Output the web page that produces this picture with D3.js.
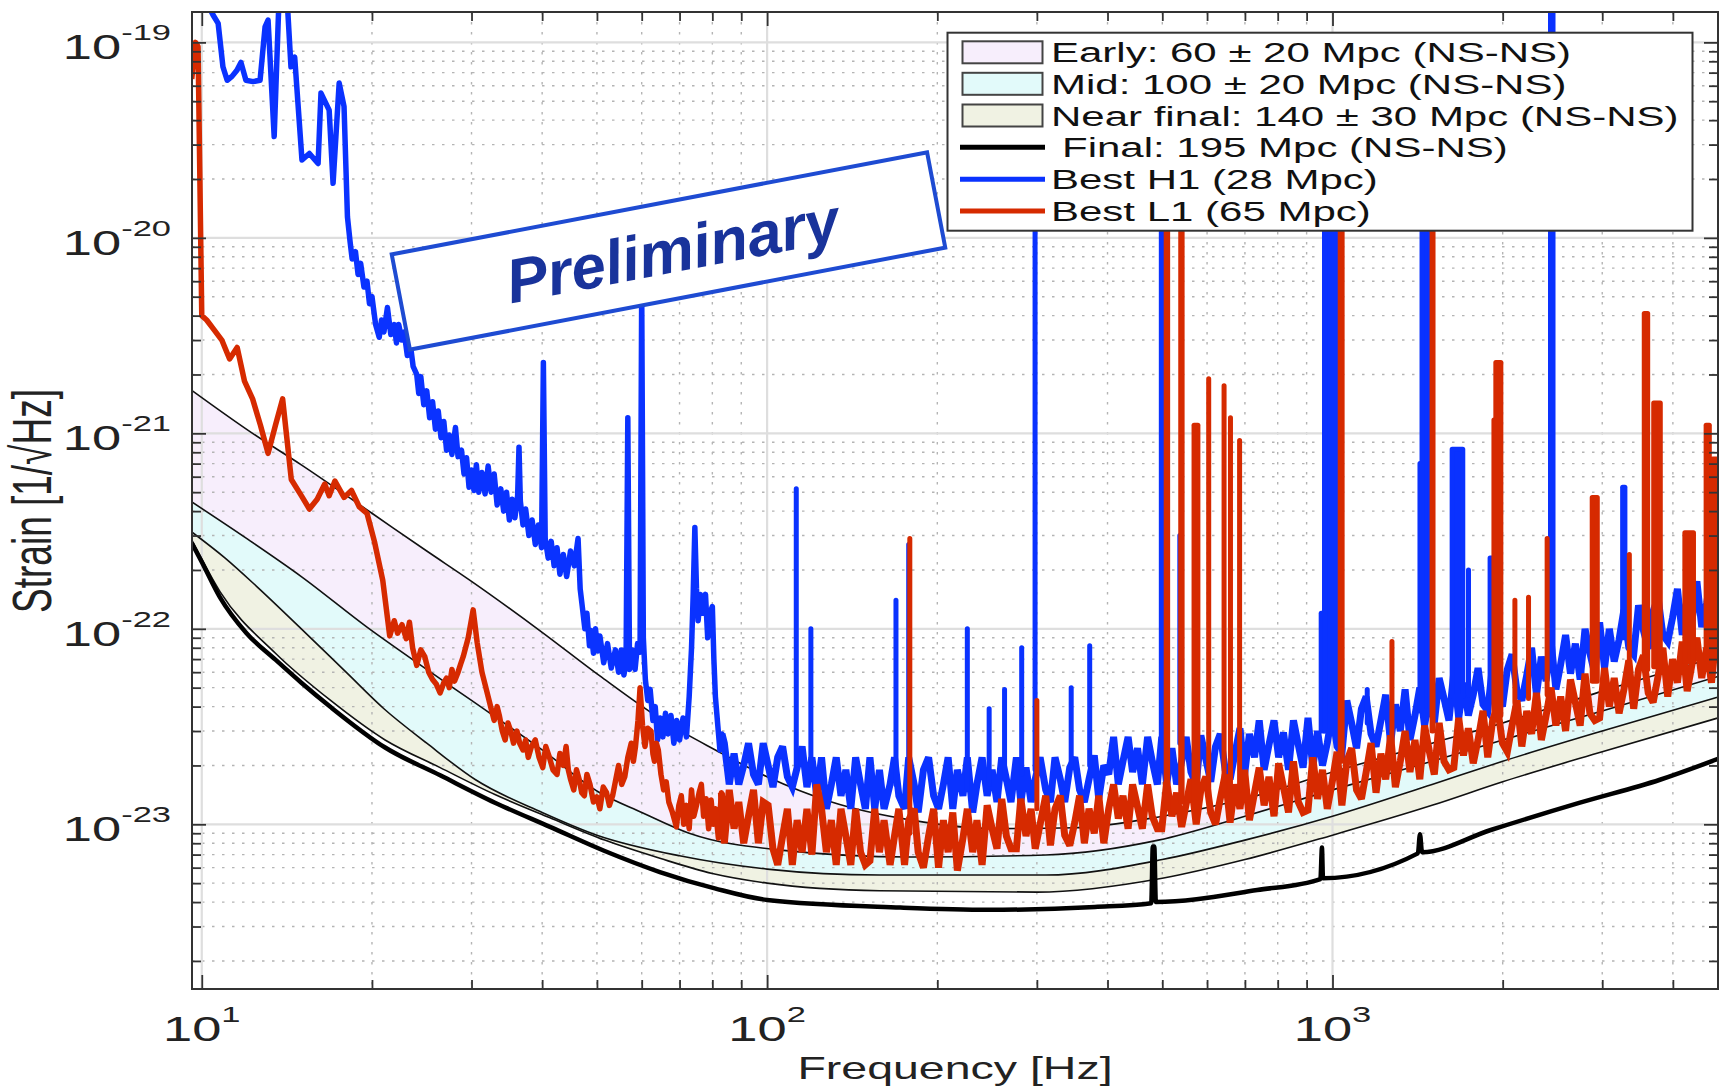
<!DOCTYPE html>
<html>
<head>
<meta charset="utf-8">
<script src="https://cdn.jsdelivr.net/npm/d3@7/dist/d3.min.js"></script>
<style>
  body { margin: 0; background: #fff; }
  svg { display: block; font-family: "Liberation Sans", Arial, Helvetica, sans-serif; }
</style>
</head>
<body>
<div id="vis"></div>
<script>

// ---- Data: [frequency Hz, strain 1/sqrt(Hz)] ----

// Early band upper edge (worst of 60 +- 20 Mpc)
const earlyUpper = [[9.6,1.66e-21],[12.3,1.0e-21],[15,6.9e-22],[20,3.9e-22],[25,2.5e-22],[30,1.75e-22],[40,9.6e-23],
  [50.6,5.74e-23],[66.5,3.3e-23],[81,2.4e-23],[100,1.75e-23],[130,1.3e-23],[180,1.05e-23],[250,9.5e-24],[350,9.6e-24],
  [500,1.1e-23],[700,1.35e-23],[1000,1.85e-23],[1500,2.6e-23],[2000,3.3e-23],[3000,4.8e-23],[4807,7.2e-23]];

// Early lower edge = Mid upper edge
const midUpper = [[9.6,4.46e-22],[12,2.9e-22],[15,1.85e-22],[19.6,1.02e-22],[25,6.2e-23],[30,4.3e-23],[40,2.4e-23],
  [50.6,1.45e-23],[60,1.15e-23],[72.8,9.0e-24],[104.6,7.4e-24],[180,6.8e-24],[311,6.97e-24],[492,8.3e-24],[700,1.1e-23],
  [1000,1.5e-23],[1500,2.1e-23],[2000,2.7e-23],[3000,3.8e-23],[4807,5.7e-23]];

// Mid lower edge = Near final upper edge
const nearUpper = [[9.6,3.13e-22],[11,2.3e-22],[12.5,1.65e-22],[15,1.0e-22],[18,6e-23],[21,3.9e-23],[25,2.6e-23],
  [30.5,1.69e-23],[40,1.15e-23],[50,8.8e-24],[70,6.9e-24],[100,5.9e-24],[158,5.5e-24],[311,5.5e-24],[500,6.6e-24],
  [700,8.3e-24],[1000,1.1e-23],[1500,1.6e-23],[2000,2.1e-23],[3000,3.0e-23],[4807,4.47e-23]];

// Near final lower edge
const nearLower = [[9.6,2.85e-22],[10.77,1.55e-22],[13.5,7.5e-23],[16.9,4.3e-23],[21.1,2.7e-23],[26.4,1.95e-23],
  [33,1.42e-23],[41.3,1.08e-23],[51.6,8.3e-24],[64.6,6.7e-24],[80,5.6e-24],[100,5.0e-24],[158,4.57e-24],
  [300,4.5e-24],[500,5.3e-24],[700,6.6e-24],[1000,8.8e-24],[1500,1.25e-23],[2000,1.65e-23],[3000,2.35e-23],
  [4807,3.5e-23]];

// Final design (195 Mpc)
const finalDesign = [[9.6,2.75e-22],[10,2.2e-22],[10.77,1.45e-22],[12,9.5e-23],[13.5,6.95e-23],[15,5.3e-23],
  [16.9,3.98e-23],[21.1,2.47e-23],[26.4,1.78e-23],[33,1.29e-23],[41.3,9.7e-24],[51.6,7.3e-24],[64.6,5.7e-24],
  [80.8,4.7e-24],[100,4.1e-24],[172,3.75e-24],[246,3.65e-24],[380,3.78e-24],[478,3.95e-24],[481,7.7e-24],
  [484,7.7e-24],[487,4.0e-24],[736,4.61e-24],[952,5.25e-24],[958,7.6e-24],[962,5.3e-24],[1416,7.1e-24],
  [1428,8.9e-24],[1440,7.2e-24],[1905,9.35e-24],[2740,1.29e-23],[3795,1.69e-23],[4807,2.16e-23]];

// Best H1 (28 Mpc): low-frequency trace, then the noise floor, then lines [f from, f to, peak, floor]
const h1Low = [[10.1,1.7e-19],[10.47,1.38e-19],[10.69,1.25e-19],[10.9,7.5e-20],[11.09,6.4e-20],[11.31,6.7e-20],
  [11.54,7.2e-20],[11.73,7.9e-20],[11.97,6.4e-20],[12.32,6.3e-20],[12.68,6.4e-20],[12.94,1.2e-19],[13.1,1.3e-19],
  [13.43,3.3e-20],[13.7,1.7e-19],[14.15,1.7e-19],[14.38,7.5e-20],[14.6,8.4e-20],[15.04,2.5e-20],[15.5,2.7e-20],
  [16.06,2.4e-20],[16.25,5.5e-20],[16.8,4.5e-20],[17.07,1.9e-20],[17.5,6.2e-20],[17.85,4.7e-20],[18.1,1.28e-20],
  [18.3,9.5e-21],[18.45,7.8e-21],[18.7,8.5e-21],[18.9,6.5e-21],[19.1,7.4e-21],[19.36,5.6e-21],[19.6,6.0e-21],
  [19.8,4.6e-21],[20.0,5.0e-21],[20.3,3.6e-21],[20.6,3.1e-21],[20.8,3.8e-21],[21.0,3.3e-21],[21.3,4.4e-21],
  [21.6,3.2e-21],[21.9,3.6e-21],[22.1,2.9e-21],[22.3,3.6e-21],[22.6,3.0e-21],[22.8,3.3e-21],[23.1,2.5e-21],
  [23.4,2.8e-21],[23.65,2.2e-21],[24.0,2.0e-21],[24.2,1.6e-21],[24.4,1.95e-21],[24.7,1.4e-21],[25.0,1.65e-21],
  [25.3,1.2e-21],[25.6,1.45e-21],[25.9,1.05e-21],[26.2,1.3e-21],[26.5,9.5e-22],[26.8,1.15e-21],[27.1,8.2e-22],
  [27.4,9.8e-22],[27.7,7.8e-22],[28.1,1.07e-21],[28.4,7.6e-22],[28.8,8.2e-22],[29.1,6.2e-22],[29.4,7.5e-22],
  [29.7,5.3e-22],[30.0,6.5e-22],[30.3,5.1e-22],[30.6,6.9e-22],[30.9,5.0e-22],[31.3,6.3e-22],[31.7,4.9e-22],
  [32.1,6.8e-22],[32.5,5.0e-22],[32.9,6.2e-22],[33.3,4.3e-22],[33.8,5.2e-22],[34.2,4.0e-22],[34.6,5.0e-22],
  [35.0,3.6e-22],[35.4,4.6e-22],[35.8,3.7e-22],[36.2,4.8e-22],[36.4,8.5e-22],[36.6,4.5e-22],[37.0,3.4e-22],
  [37.4,4.1e-22],[37.9,3.0e-22],[38.4,3.6e-22],[38.9,2.7e-22],[39.4,3.4e-22],[39.9,2.6e-22],[40.2,2.3e-21],
  [40.5,2.9e-22],[41.0,2.3e-22],[41.5,2.8e-22],[42.0,2.1e-22],[42.5,2.6e-22],[43.0,1.9e-22],[43.6,2.4e-22],
  [44.2,1.85e-22],[44.9,2.5e-22],[45.6,2.1e-22],[46.3,2.9e-22],[46.7,1.6e-22],[47.1,1.3e-22],[47.6,1.0e-22],
  [48.0,1.2e-22],[48.5,8.2e-23],[48.8,9.8e-23],[49.3,7.5e-23],[49.7,1.0e-22],[50.2,7.7e-23],[50.6,9.2e-23],
  [51.4,6.7e-23],[52.2,8.4e-23],[53.0,6.3e-23],[53.9,7.8e-23],[54.6,6.0e-23],[55.2,7.8e-23],[55.8,5.8e-23],
  [56.3,6.8e-23],[56.7,1.2e-21],[57.1,6.2e-23],[57.7,7.8e-23],[58.4,6.2e-23],[59.0,8.4e-23],[59.6,7.6e-23],
  [60.0,5.5e-21],[60.4,9.0e-23],[60.9,5.5e-23],[61.5,4.3e-23],[62.1,4.9e-23],[62.8,3.4e-23],[63.4,4.0e-23],
  [64,2.7e-23],[64.7,3.5e-23],[65.4,2.8e-23],[66.1,3.7e-23],[66.8,2.9e-23],[67.6,3.6e-23],[68.4,2.6e-23],
  [69.2,3.4e-23],[70,2.7e-23],[71,3.5e-23],[72,2.8e-23],[72.8,4.5e-23],[73.5,8e-23],[74.0,1.5e-22],[74.5,3.3e-22],
  [75.0,1.6e-22],[75.5,1.1e-22],[76.2,1.5e-22],[77,1.2e-22],[77.8,1.5e-22],[78.5,9e-23],[79.2,1.2e-22],[80,1.3e-22],
  [80.5,7e-23],[81,4.5e-23],[81.8,3.2e-23],[82.5,2.4e-23],[83.2,2.9e-23]];

const h1Floor = [[84,2.6e-23],[85.7,1.6e-23],[87.4,2.3e-23],[89.1,1.6e-23],[90.9,2.0e-23],[92.7,2.6e-23],
  [94.6,1.8e-23],[96.5,1.6e-23],[98.4,2.6e-23],[100.4,2.0e-23],[102.4,1.55e-23],[104.4,2.2e-23],[106.5,2.5e-23],
  [108.6,1.75e-23],[110.8,1.55e-23],[113,1.95e-23],[115.3,2.5e-23],[117.6,1.55e-23],[120,2.2e-23],[122.4,1.4e-23],
  [124.8,2.2e-23],[127.3,1.2e-23],[129.9,1.6e-23],[132.5,2.2e-23],[135.1,1.4e-23],[137.8,1.9e-23],[140.6,1.2e-23],
  [143.4,2.2e-23],[146.3,1.6e-23],[149.2,1.2e-23],[152,2.2e-23],[155,1.2e-23],[158,1.9e-23],[161,1.2e-23],
  [165,1.6e-23],[168,2.2e-23],[171,1.4e-23],[175,1.2e-23],[178,2.2e-23],[182,1.6e-23],[185,1.15e-23],
  [189,1.9e-23],[193,2.2e-23],[197,1.4e-23],[201,1.2e-23],[205,1.6e-23],[209,2.2e-23],[213,1.2e-23],
  [217,1.9e-23],[222,1.4e-23],[226,2.2e-23],[231,1.15e-23],[235,1.6e-23],[240,2.2e-23],[245,1.4e-23],
  [250,1.9e-23],[255,1.3e-23],[260,2.2e-23],[265,1.7e-23],[270,1.3e-23],[276,2.2e-23],[281,1.3e-23],
  [287,1.95e-23],[293,1.3e-23],[298,1.7e-23],[304,2.2e-23],[311,1.5e-23],[317,1.3e-23],[323,2.2e-23],
  [330,1.7e-23],[336,1.3e-23],[343,1.95e-23],[350,2.2e-23],[357,1.5e-23],[364,1.3e-23],[371,1.7e-23],
  [379,2.25e-23],[386,1.35e-23],[394,2.0e-23],[402,1.8e-23],[410,2.8e-23],[418,1.6e-23],[426,2.1e-23],
  [435,2.8e-23],[443,1.85e-23],[452,2.45e-23],[461,1.6e-23],[471,2.8e-23],[480,2.1e-23],[490,1.6e-23],
  [499,2.8e-23],[509,1.6e-23],[520,2.45e-23],[530,1.6e-23],[541,2.1e-23],[551,2.8e-23],[562,1.85e-23],
  [574,1.6e-23],[585,2.85e-23],[597,2.15e-23],[609,1.65e-23],[621,2.5e-23],[633,2.9e-23],[646,1.9e-23],
  [659,1.7e-23],[672,2.3e-23],[686,3.1e-23],[699,1.8e-23],[713,2.9e-23],[728,2.2e-23],[742,3.4e-23],
  [757,1.9e-23],[772,2.55e-23],[788,3.4e-23],[803,2.2e-23],[819,2.95e-23],[836,1.9e-23],[853,3.4e-23],
  [870,2.55e-23],[887,1.95e-23],[905,3.5e-23],[923,1.95e-23],[941,3.0e-23],[960,2.0e-23],[979,2.6e-23],
  [999,3.7e-23],[1019,2.5e-23],[1039,2.3e-23],[1060,4.3e-23],[1081,3.3e-23],[1103,2.45e-23],[1125,3.9e-23],
  [1147,4.5e-23],[1170,2.9e-23],[1194,2.5e-23],[1218,3.4e-23],[1242,4.6e-23],[1267,2.6e-23],[1292,4.1e-23],
  [1318,3.0e-23],[1344,4.9e-23],[1371,2.7e-23],[1399,3.6e-23],[1427,5.0e-23],[1455,3.2e-23],[1484,4.5e-23],
  [1514,3.3e-23],[1544,5.6e-23],[1575,4.4e-23],[1607,3.4e-23],[1639,6.0e-23],[1672,3.5e-23],[1705,5.3e-23],
  [1739,3.6e-23],[1774,4.6e-23],[1809,6.3e-23],[1846,4.1e-23],[1882,3.8e-23],[1920,6.6e-23],[1958,5.0e-23],
  [1998,4.0e-23],[2038,6.2e-23],[2078,7.4e-23],[2120,4.8e-23],[2162,4.3e-23],[2206,5.8e-23],[2250,8.0e-23],
  [2295,4.6e-23],[2341,7.2e-23],[2387,5.4e-23],[2435,8.7e-23],[2484,4.9e-23],[2533,6.6e-23],[2584,9.3e-23],
  [2636,5.9e-23],[2689,8.4e-23],[2742,5.5e-23],[2797,1.0e-22],[2853,7.5e-23],[2910,5.9e-23],[2968,1.08e-22],
  [3028,6.3e-23],[3088,1.0e-22],[3150,6.8e-23],[3213,8.8e-23],[3277,1.25e-22],[3343,8.0e-23],[3410,7.4e-23],
  [3478,1.32e-22],[3548,9.8e-23],[3618,7.9e-23],[3691,1.23e-22],[3765,1.45e-22],[3840,9.3e-23],[3917,8.6e-23],
  [3995,1.14e-22],[4075,1.6e-22],[4156,9.3e-23],[4240,1.45e-22],[4324,1.1e-22],[4411,1.75e-22],[4499,1.02e-22],
  [4589,1.35e-22],[4681,1.9e-22],[4774,1.2e-22],[4807,1.7e-22]];

const h1Lines = [[112.6,112.6,5.2e-22,2.0e-23],[119.5,119.5,1.0e-22,2.0e-23],[169,169,1.4e-22,1.6e-23],
  [178,178,2.7e-22,1.6e-23],[226,226,1.0e-22,1.5e-23],[247,247,3.9e-23,1.6e-23],[263,263,4.9e-23,1.7e-23],
  [282,282,8.0e-23,1.8e-23],[297.8,297.8,3e-20,1.9e-23],[345,345,5e-23,2.0e-23],[372,372,8.2e-23,2.0e-23],
  [498,506,4e-20,2.5e-23],[537,537,3e-22,2.6e-23],[955,965,1.2e-22,3.0e-23],[968,1025,5e-20,3.0e-23],
  [1152,1152,4.9e-23,3.3e-23],[1428,1428,7e-22,3.8e-23],[1440,1486,3e-20,3.8e-23],[1628,1700,8.3e-22,4.5e-23],
  [1740,1740,2.0e-22,4.6e-23],[1900,1960,2.3e-22,5.0e-23],[2430,2455,1.5e-19,6.5e-23],[3260,3290,5.3e-22,9e-23],
  [3570,3600,5.9e-22,1.0e-22]];

// Best L1 (65 Mpc)
const l1Low = [[9.6,6.5e-20],[9.75,1.0e-19],[9.85,9.5e-20],[10.0,4.0e-21],[10.2,3.8e-21],[10.5,3.4e-21],
  [10.85,3.0e-21],[11.2,2.4e-21],[11.55,2.75e-21],[11.9,1.85e-21],[12.3,1.5e-21],[12.7,1.1e-21],[13.1,7.9e-22],
  [13.5,1.1e-21],[13.9,1.5e-21],[14.4,5.8e-22],[15.0,4.8e-22],[15.5,4.1e-22],[16.0,4.6e-22],[16.5,5.5e-22],
  [16.8,4.8e-22],[17.2,5.7e-22],[17.85,4.7e-22],[18.4,5.1e-22],[19.0,4.2e-22],[19.6,3.9e-22],[20.2,2.8e-22],
  [20.9,1.77e-22],[21.5,9.2e-23],[21.9,1.1e-22],[22.2,9.5e-23],[22.6,1.05e-22],[23.0,8.9e-23],[23.3,1.08e-22],
  [23.6,8.0e-23],[24.0,6.5e-23],[24.4,7.8e-23],[24.8,7.2e-23],[25.2,6.0e-23],[25.6,5.5e-23],[26.0,5.2e-23],
  [26.4,4.7e-23],[26.8,5.3e-23],[27.1,5.6e-23],[27.4,5.0e-23],[27.7,6.2e-23],[28.0,5.4e-23],[28.4,6.0e-23],
  [28.7,6.6e-23],[29.0,7.2e-23],[29.6,9.0e-23],[30.2,1.25e-22],[30.7,8.5e-23],[31.3,6.0e-23],[31.7,5.2e-23],
  [32.1,4.5e-23],[32.5,3.9e-23],[32.9,3.4e-23],[33.3,4.0e-23],[33.6,3.6e-23],[34.0,3.0e-23],[34.4,2.7e-23],
  [34.8,3.3e-23],[35.2,3.0e-23],[35.6,2.6e-23],[36.1,3.0e-23],[36.5,2.6e-23],[37.0,2.4e-23],[37.4,2.7e-23],
  [37.8,2.2e-23],[38.3,2.5e-23],[38.9,2.7e-23],[39.5,2.2e-23],[40.1,1.95e-23],[40.6,2.5e-23],[41.2,2.2e-23],
  [41.8,1.9e-23],[42.5,1.8e-23],[43.0,2.3e-23],[43.6,2.0e-23],[44.1,2.5e-23],[44.5,1.9e-23],[44.9,1.7e-23],
  [45.5,1.5e-23],[46.0,1.9e-23],[46.5,1.7e-23],[47.0,1.45e-23],[47.5,1.4e-23],[48.0,1.8e-23],[48.6,1.6e-23],
  [49.3,1.3e-23],[50,1.38e-23],[50.6,1.2e-23],[51.3,1.55e-23],[52,1.45e-23],[52.6,1.25e-23],[53.3,1.4e-23],
  [54,1.7e-23],[54.6,2.0e-23],[55.3,1.6e-23],[56,1.75e-23],[56.7,2.2e-23],[57.5,2.6e-23],[58,2.1e-23],
  [58.5,2.5e-23],[59.1,3.4e-23],[59.6,5.0e-23],[60.2,3.2e-23],[60.8,2.5e-23],[61.5,3.1e-23],[62.3,3.0e-23],
  [62.8,2.3e-23],[63.2,2.1e-23],[63.7,2.6e-23],[64.2,2.4e-23],[64.9,1.8e-23],[65.6,1.5e-23],[66.3,1.65e-23],
  [67,1.3e-23],[68,1.15e-23],[69.1,9.7e-24],[69.8,1.25e-23],[70.5,1.4e-23],[71.2,1.0e-23],[72,1.25e-23],
  [72.8,9.5e-24],[73.5,1.5e-23],[74.2,1.1e-23],[75,1.25e-23],[75.8,1.45e-23],[76.5,1.6e-23],[77.2,1.1e-23],
  [78,1.35e-23],[78.8,9.5e-24],[79.6,1.33e-23],[80.3,1.0e-23],[81,1.2e-23],[82,8.5e-24],[83,1.45e-23]];

const l1Floor = [[84,8e-24],[85.7,1.5e-23],[87.4,9.5e-24],[89.1,1.3e-23],[90.9,8e-24],[92.7,1.1e-23],
  [94.6,1.5e-23],[96.5,8e-24],[98.4,1.3e-23],[100.4,1.25e-23],[102.4,7.5e-24],[104.4,6.2e-24],[106.5,8.7e-24],
  [108.6,1.2e-23],[110.8,6.2e-24],[113,1.05e-23],[115.3,7.2e-24],[117.6,1.2e-23],[120,7e-24],[122.4,1.6e-23],
  [124.8,1.2e-23],[127.3,7.2e-24],[129.9,1.05e-23],[132.5,6.2e-24],[135.1,1.2e-23],[137.8,8.7e-24],
  [140.6,6.2e-24],[143.4,1.2e-23],[146.3,7.2e-24],[149.2,6.2e-24],[152,6.5e-24],[155,1.2e-23],[158,7.2e-24],
  [161,1.05e-23],[165,6.2e-24],[168,8.7e-24],[171,1.2e-23],[175,6.2e-24],[178,1.05e-23],[182,1.2e-23],
  [185,7.2e-24],[189,6e-24],[193,8.7e-24],[197,1.2e-23],[201,6e-24],[205,1.05e-23],[209,7.2e-24],[213,1.15e-23],
  [217,5.8e-24],[222,8.5e-24],[226,1.2e-23],[231,7.2e-24],[235,1.05e-23],[240,6.2e-24],[245,1.25e-23],
  [250,9.5e-24],[255,7.5e-24],[260,1.35e-23],[265,8.7e-24],[270,7.5e-24],[276,7.5e-24],[281,1.35e-23],
  [287,8.7e-24],[293,1.2e-23],[298,7.5e-24],[304,1.0e-23],[311,1.4e-23],[317,7.8e-24],[323,1.2e-23],
  [330,1.4e-23],[336,8.8e-24],[343,7.8e-24],[350,1.02e-23],[357,1.4e-23],[364,8e-24],[371,1.2e-23],[379,9e-24],
  [386,1.4e-23],[394,8e-24],[402,1.2e-23],[410,1.6e-23],[418,1.07e-23],[426,1.4e-23],[435,9.5e-24],[443,1.6e-23],
  [452,1.23e-23],[461,9.5e-24],[471,1.6e-23],[480,1.1e-23],[490,9.5e-24],[499,9.5e-24],[509,1.65e-23],
  [520,1.1e-23],[530,1.45e-23],[541,9.7e-24],[551,1.27e-23],[562,1.7e-23],[574,1.0e-23],[585,1.5e-23],
  [597,1.75e-23],[609,1.15e-23],[621,1.0e-23],[633,1.35e-23],[646,1.8e-23],[659,1.02e-23],[672,1.6e-23],
  [686,1.2e-23],[699,1.9e-23],[713,1.05e-23],[728,1.45e-23],[742,1.95e-23],[757,1.25e-23],[772,1.75e-23],
  [788,1.1e-23],[803,2.05e-23],[819,1.55e-23],[836,1.15e-23],[853,2.1e-23],[870,1.3e-23],[887,1.15e-23],
  [905,1.18e-23],[923,2.2e-23],[941,1.35e-23],[960,1.9e-23],[979,1.2e-23],[999,1.65e-23],[1019,2.35e-23],
  [1039,1.25e-23],[1060,2.1e-23],[1081,2.45e-23],[1103,1.5e-23],[1125,1.35e-23],[1147,1.85e-23],[1170,2.6e-23],
  [1194,1.45e-23],[1218,2.3e-23],[1242,1.7e-23],[1267,2.85e-23],[1292,1.55e-23],[1318,2.1e-23],[1344,3.0e-23],
  [1371,1.85e-23],[1399,2.7e-23],[1427,1.7e-23],[1455,3.2e-23],[1484,2.35e-23],[1514,1.8e-23],[1544,3.3e-23],
  [1575,2.1e-23],[1607,1.9e-23],[1639,1.95e-23],[1672,3.5e-23],[1705,2.25e-23],[1739,3.1e-23],[1774,2.05e-23],
  [1809,2.7e-23],[1846,3.8e-23],[1882,2.2e-23],[1920,3.4e-23],[1958,4.0e-23],[1998,2.6e-23],[2038,2.35e-23],
  [2078,3.2e-23],[2120,4.3e-23],[2162,2.5e-23],[2206,3.8e-23],[2250,2.9e-23],[2295,4.7e-23],[2341,2.7e-23],
  [2387,3.6e-23],[2435,5.0e-23],[2484,3.2e-23],[2533,4.5e-23],[2584,3.0e-23],[2636,5.5e-23],[2689,4.2e-23],
  [2742,3.2e-23],[2797,5.9e-23],[2853,3.7e-23],[2910,3.4e-23],[2968,3.5e-23],[3028,6.3e-23],[3088,4.0e-23],
  [3150,5.6e-23],[3213,3.7e-23],[3277,4.9e-23],[3343,6.9e-23],[3410,3.9e-23],[3478,6.2e-23],[3548,7.3e-23],
  [3618,4.7e-23],[3691,4.2e-23],[3765,5.7e-23],[3840,8.0e-23],[3917,4.5e-23],[3995,7.0e-23],[4075,5.3e-23],
  [4156,8.6e-23],[4240,4.8e-23],[4324,6.6e-23],[4411,9.0e-23],[4499,5.6e-23],[4589,8.0e-23],[4681,5.3e-23],
  [4774,9.5e-23],[4807,7.0e-23]];

const l1Lines = [[178.8,178.8,2.9e-22,9e-24],[300,300,4.3e-23,1.2e-23],[508,511,3e-20,1.2e-23],
  [539,542,3e-20,1.3e-23],[569,578,1.1e-21,1.3e-23],[604,604,1.9e-21,1.4e-23],[643,643,1.75e-21,1.5e-23],
  [660,660,1.2e-21,1.5e-23],[685,685,9.2e-22,1.5e-23],[1032,1040,3e-20,2.1e-23],[1274,1274,8.6e-23,2.6e-23],
  [1500,1506,3e-20,3.0e-23],[1930,1945,1.17e-21,3.6e-23],[1945,1985,2.3e-21,3.6e-23],[2102,2102,1.4e-22,4.2e-23],
  [2222,2222,1.45e-22,4.4e-23],[2397,2397,2.9e-22,4.6e-23],[2880,2940,4.7e-22,5.4e-23],[3350,3350,2.4e-22,6.0e-23],
  [3560,3610,4.1e-21,6.2e-23],[3700,3800,1.43e-21,6.4e-23],[4200,4350,3.1e-22,6.8e-23],[4580,4640,1.1e-21,7.0e-23],
  [4700,4780,7.4e-22,7.2e-23]];

// Axis decades (tick labels are 10^exp)
const xTickExps = [1, 2, 3];
const yTickExps = [-19, -20, -21, -22, -23];

const legendLabels = [
  "Early: 60 \u00b1 20 Mpc (NS-NS)",
  "Mid: 100 \u00b1 20 Mpc (NS-NS)",
  "Near final: 140 \u00b1 30 Mpc (NS-NS)",
  "Final: 195 Mpc (NS-NS)",
  "Best H1 (28 Mpc)",
  "Best L1 (65 Mpc)"
];

// ---- Layout ----
const W = 1724, H = 1091;
const frame = {left: 192, right: 1718, top: 12, bottom: 989};
const SX = 1.5; // the original figure is stretched sideways, so is its text

const colors = {
  early: "#f7eefc", mid: "#e2fafa", near: "#f0f2e3",
  h1: "#0a32ff", l1: "#d62a00", axis: "#333"
};

let svg = d3.select("#vis").append("svg")
  .attr("width", W).attr("height", H);

svg.append("rect").attr("width", W).attr("height", H).attr("fill", "#fff");

let x = d3.scaleLog().domain([9.61, 4807]).range([frame.left, frame.right]);
let y = d3.scaleLog().domain([1.437e-24, 1.43e-19]).range([frame.bottom, frame.top]);

svg.append("clipPath").attr("id", "plotclip")
  .append("rect")
  .attr("x", frame.left).attr("y", frame.top)
  .attr("width", frame.right - frame.left).attr("height", frame.bottom - frame.top);

let plot = svg.append("g").attr("clip-path", "url(#plotclip)");

let smooth = d3.line().x(d => x(d[0])).y(d => y(d[1])).curve(d3.curveMonotoneX);
let straight = d3.line().x(d => x(d[0])).y(d => y(d[1]));

function bandPath(upper, lower){
  let top = smooth(upper);
  let bottom = smooth(lower.slice().reverse());
  return top + "L" + bottom.slice(1) + "Z";
}

// Bands
plot.append("path").attr("d", bandPath(earlyUpper, midUpper)).attr("fill", colors.early);
plot.append("path").attr("d", bandPath(midUpper, nearUpper)).attr("fill", colors.mid);
plot.append("path").attr("d", bandPath(nearUpper, nearLower)).attr("fill", colors.near);

// Grid: decades solid, the rest dotted
let xMajor = xTickExps.map(e => Math.pow(10, e));
let yMajor = yTickExps.map(e => Math.pow(10, e));
let xMinor = [], yMinor = [];
[1, 2, 3].forEach(function(e){
  for(let m = 2; m <= 9; m++){
    let v = m * Math.pow(10, e);
    if(v < x.domain()[1]) xMinor.push(v);
  }
});
[-24, -23, -22, -21, -20].forEach(function(e){
  for(let m = 2; m <= 9; m++){
    let v = m * Math.pow(10, e);
    if(v > y.domain()[0] && v < y.domain()[1]) yMinor.push(v);
  }
});

let grid = plot.append("g");
grid.selectAll(".gxm").data(xMinor).join("line")
  .attr("x1", d => x(d)).attr("x2", d => x(d))
  .attr("y1", frame.top).attr("y2", frame.bottom)
  .attr("stroke", "#b4b4b4").attr("stroke-width", 1.4).attr("stroke-dasharray", "2.5,7.5");
grid.selectAll(".gym").data(yMinor).join("line")
  .attr("y1", d => y(d)).attr("y2", d => y(d))
  .attr("x1", frame.left).attr("x2", frame.right)
  .attr("stroke", "#b4b4b4").attr("stroke-width", 1.4).attr("stroke-dasharray", "2.5,7.5");
grid.selectAll(".gxM").data(xMajor).join("line")
  .attr("x1", d => x(d)).attr("x2", d => x(d))
  .attr("y1", frame.top).attr("y2", frame.bottom)
  .attr("stroke", "#dedede").attr("stroke-width", 2.2);
grid.selectAll(".gyM").data(yMajor).join("line")
  .attr("y1", d => y(d)).attr("y2", d => y(d))
  .attr("x1", frame.left).attr("x2", frame.right)
  .attr("stroke", "#dedede").attr("stroke-width", 2.2);

// Band edges
[earlyUpper, midUpper, nearUpper, nearLower].forEach(function(edge){
  plot.append("path").attr("d", smooth(edge))
    .attr("fill", "none").attr("stroke", "#111").attr("stroke-width", 1.6);
});

// Final design
plot.append("path").attr("d", smooth(finalDesign))
  .attr("fill", "none").attr("stroke", "#000").attr("stroke-width", 4.5)
  .attr("stroke-linejoin", "round");

// A measured spectrum: low-frequency trace, dense noise floor, then the lines on top
function drawSpectrum(low, floor, lines, color){
  plot.append("path").attr("d", straight(low.concat(floor.slice(0, 1))))
    .attr("fill", "none").attr("stroke", color).attr("stroke-width", 5.5)
    .attr("stroke-linejoin", "round");
  plot.append("path").attr("d", straight(low.slice(-1).concat(floor)))
    .attr("fill", "none").attr("stroke", color).attr("stroke-width", 7)
    .attr("stroke-linejoin", "miter").attr("stroke-miterlimit", 3);
  plot.selectAll(null).data(lines).join("path")
    .attr("d", l => straight([[l[0], l[3]], [l[0], l[2]], [l[1], l[2]], [l[1], l[3]]]) + "Z")
    .attr("fill", color).attr("stroke", color).attr("stroke-width", 5)
    .attr("stroke-linejoin", "round");
}
drawSpectrum(h1Low, h1Floor, h1Lines, colors.h1);
drawSpectrum(l1Low, l1Floor, l1Lines, colors.l1);

// Frame and inward ticks on all four sides
svg.append("rect")
  .attr("x", frame.left).attr("y", frame.top)
  .attr("width", frame.right - frame.left).attr("height", frame.bottom - frame.top)
  .attr("fill", "none").attr("stroke", colors.axis).attr("stroke-width", 2);

function ticks(axisFn, scale, values, len, tx, ty){
  svg.append("g").attr("transform", `translate(${tx},${ty})`)
    .call(axisFn(scale).tickValues(values).tickSize(-len).tickFormat(""))
    .call(g => g.select(".domain").remove())
    .selectAll("line").attr("stroke", colors.axis).attr("stroke-width", 1.8);
}
ticks(d3.axisBottom, x, xMajor, 14, 0, frame.bottom);
ticks(d3.axisBottom, x, xMinor, 9, 0, frame.bottom);
ticks(d3.axisTop, x, xMajor, 14, 0, frame.top);
ticks(d3.axisTop, x, xMinor, 9, 0, frame.top);
ticks(d3.axisLeft, y, yMajor, 14, frame.left, 0);
ticks(d3.axisLeft, y, yMinor, 9, frame.left, 0);
ticks(d3.axisRight, y, yMajor, 14, frame.right, 0);
ticks(d3.axisRight, y, yMinor, 9, frame.right, 0);

// Tick labels 10^n
xTickExps.forEach(function(e){
  let t = svg.append("text")
    .attr("transform", `translate(${x(Math.pow(10, e))},1041) scale(${SX},1)`)
    .attr("text-anchor", "middle").attr("fill", "#222").attr("font-size", 35);
  t.append("tspan").text("10");
  t.append("tspan").attr("dy", -19).attr("font-size", 23).text(e);
});
yTickExps.forEach(function(e){
  let t = svg.append("text")
    .attr("transform", `translate(171,${y(Math.pow(10, e)) + 17}) scale(${SX},1)`)
    .attr("text-anchor", "end").attr("fill", "#222").attr("font-size", 35);
  t.append("tspan").text("10");
  t.append("tspan").attr("dy", -19).attr("font-size", 23).text(e);
});

// Axis titles
svg.append("text")
  .attr("transform", `translate(955,1079) scale(${SX},1)`)
  .attr("text-anchor", "middle").attr("fill", "#222").attr("font-size", 31)
  .text("Frequency [Hz]");
svg.append("text")
  .attr("transform", `translate(51,501) scale(${SX},1) rotate(-90)`)
  .attr("text-anchor", "middle").attr("fill", "#222").attr("font-size", 37)
  .text("Strain [1/\u221aHz]");

// Legend
let legend = svg.append("g");
legend.append("rect")
  .attr("x", 947.5).attr("y", 32.7).attr("width", 745).attr("height", 198)
  .attr("fill", "#fff").attr("stroke", "#333").attr("stroke-width", 2);

let rowY = [52.3, 83.8, 115.5, 147.3, 179.3, 211];
let swatches = [
  {type: "patch", color: colors.early},
  {type: "patch", color: colors.mid},
  {type: "patch", color: colors.near},
  {type: "line", color: "#000"},
  {type: "line", color: colors.h1},
  {type: "line", color: colors.l1}
];
swatches.forEach(function(s, i){
  if(s.type === "patch"){
    legend.append("rect")
      .attr("x", 962.5).attr("y", rowY[i] - 11).attr("width", 80).attr("height", 22)
      .attr("fill", s.color).attr("stroke", "#444").attr("stroke-width", 2);
  } else {
    legend.append("line")
      .attr("x1", 960).attr("x2", 1045).attr("y1", rowY[i]).attr("y2", rowY[i])
      .attr("stroke", s.color).attr("stroke-width", 5);
  }
  legend.append("text")
    .attr("transform", `translate(${i === 3 ? 1062 : 1051},${rowY[i] + 10}) scale(${SX},1)`)
    .attr("fill", "#111").attr("font-size", 28)
    .text(legendLabels[i]);
});

// "Preliminary" stamp
let stamp = svg.append("g").attr("transform", "translate(668.5,251) rotate(-10.8)");
stamp.append("rect")
  .attr("x", -272.5).attr("y", -48.5).attr("width", 545).attr("height", 97)
  .attr("fill", "#fff").attr("stroke", "#1e4bd2").attr("stroke-width", 4);
stamp.append("text")
  .attr("x", 4).attr("y", 22)
  .attr("text-anchor", "middle")
  .attr("font-size", 62).attr("font-weight", "bold").attr("font-style", "italic")
  .attr("fill", "#19339b")
  .text("Preliminary");

</script>
</body>
</html>
